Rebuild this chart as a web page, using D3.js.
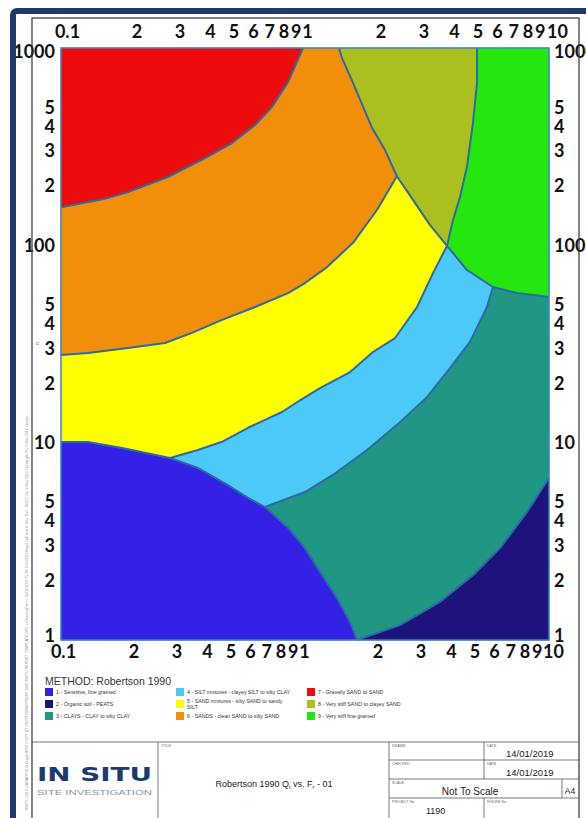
<!DOCTYPE html>
<html>
<head>
<meta charset="utf-8">
<script src="https://cdn.jsdelivr.net/npm/d3@7"></script>
<style>
  body { margin: 0; background: #fff; }
  svg { display: block; font-family: "Liberation Sans", Arial, sans-serif; }
  .axis text { font-family: Lato, "Open Sans", sans-serif; font-weight: 700; font-size: 18px; fill: #111; }
  .small-label { font-size: 3.6px; fill: #666; }
  .legend-text { font-size: 5.3px; fill: #333; }
</style>
</head>
<body>
<div id="chart"></div>
<script>
// Robertson 1990 normalised CPT chart: Qt vs Fr (%)

// axis ticks and labels
const xTicks = [0.1, 0.2, 0.3, 0.4, 0.5, 0.6, 0.7, 0.8, 0.9, 1, 2, 3, 4, 5, 6, 7, 8, 9, 10];
const xTickLabels = ["0.1", "2", "3", "4", "5", "6", "7", "8", "9", "1", "2", "3", "4", "5", "6", "7", "8", "9", "10"];
const yTicks = [1000, 500, 400, 300, 200, 100, 50, 40, 30, 20, 10, 5, 4, 3, 2, 1];
const yTickLabels = ["1000", "5", "4", "3", "2", "100", "5", "4", "3", "2", "10", "5", "4", "3", "2", "1"];

// zone boundaries as [Fr %, Qt] points
const bRedOrange = [[0.1, 156], [0.151, 172], [0.188, 186], [0.274, 222], [0.389, 277], [0.502, 330], [0.624, 407], [0.732, 502], [0.852, 672], [0.981, 1000]];
const bOrangeOlive = [[1.378, 1000], [1.418, 889], [1.573, 665], [1.882, 394], [2.128, 304], [2.38, 224]];
const bOrangeYellow = [[2.38, 224], [1.972, 151], [1.573, 103], [1.231, 77.6], [1.0, 64.4], [0.852, 57.3], [0.624, 48.7], [0.457, 41.9], [0.344, 36.0], [0.267, 32.0], [0.188, 30.2], [0.129, 28.5], [0.1, 27.8]];
const bOliveYellow = [[2.38, 224], [2.77, 170], [3.25, 127], [3.82, 99.3]];
const bOliveGreen = [[5.07, 1000], [5.07, 665], [4.88, 417], [4.61, 250], [4.32, 176], [4.04, 134], [3.82, 99.3]];
const bGreenSilt = [[3.82, 99.3], [4.61, 75], [5.89, 61.5]];
const bGreenClay = [[5.89, 61.5], [7.39, 57.3], [10, 54.7]];
const bYellowSilt = [[3.82, 99.3], [3.35, 72.5], [2.88, 48.7], [2.34, 33.9], [1.90, 28.8], [1.53, 22.8], [1.152, 18.9], [0.954, 16.4], [0.805, 14.3], [0.584, 11.9], [0.457, 10.1], [0.364, 9.18], [0.28, 8.36]];
const bBlueYellow = [[0.1, 10.07], [0.129, 10.07], [0.178, 9.39], [0.28, 8.36]];
const bBlueSilt = [[0.28, 8.36], [0.364, 7.45], [0.483, 6.10], [0.584, 5.25], [0.686, 4.72]];
const bSiltClay = [[0.686, 4.72], [1.0, 5.62], [1.30, 6.86], [1.795, 9.18], [2.45, 12.7], [3.16, 17.0], [3.93, 23.9], [4.74, 32.4], [5.57, 48.7], [5.89, 61.5]];
const bBlueClay = [[0.686, 4.72], [0.852, 3.70], [1.0, 2.92], [1.152, 2.21], [1.353, 1.63], [1.53, 1.23], [1.634, 1]];
const bClayPeat = [[1.634, 1], [2.45, 1.19], [3.57, 1.56], [4.88, 2.13], [6.30, 2.92], [8.13, 4.46], [10, 6.62]];

// legend
const zoneIds = [1, 2, 3, 4, 5, 6, 7, 8, 9];
const zoneNames = [
  ["1 - Sensitive, fine grained"],
  ["2 - Organic soil - PEATS"],
  ["3 - CLAYS - CLAY to silty CLAY"],
  ["4 - SILT mixtures - clayey SILT to silty CLAY"],
  ["5 - SAND mixtures - silty SAND to sandy", "SILT"],
  ["6 - SANDS - clean SAND to silty SAND"],
  ["7 - Gravelly SAND to SAND"],
  ["8 - Very stiff SAND to clayey SAND"],
  ["9 - Very stiff fine grained"]
];
const zoneColors = ["#3322e6", "#1d137a", "#1f9784", "#4dc9f8", "#ffff00", "#f18f0b", "#ee0b0b", "#abbf1f", "#25e70f"];

const rev = a => a.slice().reverse();

// polygons built from the shared boundaries
const zonePolys = {
  7: [[0.1, 1000], ...rev(bRedOrange)],
  6: [...bRedOrange, ...bOrangeOlive, ...bOrangeYellow],
  8: [...bOrangeOlive, ...bOliveYellow, ...rev(bOliveGreen)],
  9: [...bOliveGreen, ...bGreenSilt, ...bGreenClay, [10, 1000]],
  5: [...rev(bOrangeYellow), ...bOliveYellow, ...bYellowSilt, ...rev(bBlueYellow)],
  4: [...rev(bYellowSilt), ...bGreenSilt, ...rev(bSiltClay), ...rev(bBlueSilt)],
  3: [...bSiltClay, ...bGreenClay, ...rev(bClayPeat), ...rev(bBlueClay)],
  1: [...bBlueYellow, ...bBlueSilt, ...bBlueClay, [0.1, 1]],
  2: [...bClayPeat, [10, 1]]
};
const boundaries = [bRedOrange, bOrangeOlive, bOrangeYellow, bOliveYellow, bOliveGreen, bGreenSilt, bGreenClay,
  bYellowSilt, bBlueYellow, bBlueSilt, bSiltClay, bBlueClay, bClayPeat];

const W = 586, H = 818;
const plot = { left: 61, top: 48, right: 549, bottom: 640 };

const svg = d3.select("#chart").append("svg")
  .attr("width", W)
  .attr("height", H);

svg.append("rect").attr("width", W).attr("height", H).attr("fill", "#fff");

const x = d3.scaleLog().domain([0.1, 10]).range([plot.left, plot.right]);
const y = d3.scaleLog().domain([1, 1000]).range([plot.bottom, plot.top]);

const line = d3.line().x(d => x(d[0])).y(d => y(d[1]));

// zone fills
const zoneG = svg.append("g");
zoneIds.forEach((id, i) => {
  zoneG.append("path")
    .attr("d", line(zonePolys[id]) + "Z")
    .attr("fill", zoneColors[i])
    .attr("stroke", zoneColors[i])
    .attr("stroke-width", 0.6);
});

// boundary lines
svg.append("g").selectAll("path")
  .data(boundaries)
  .join("path")
  .attr("d", line)
  .attr("fill", "none")
  .attr("stroke", "#2d6aa3")
  .attr("stroke-width", 2)
  .attr("stroke-linejoin", "round");

// plot border
svg.append("rect")
  .attr("x", plot.left).attr("y", plot.top)
  .attr("width", plot.right - plot.left)
  .attr("height", plot.bottom - plot.top)
  .attr("fill", "none")
  .attr("stroke", "#3f86c8")
  .attr("stroke-width", 1.5);

// axes
const fmtX = d => xTickLabels[xTicks.indexOf(d)];
const fmtY = d => yTickLabels[yTicks.indexOf(d)];

const topAxis = svg.append("g").attr("class", "axis")
  .attr("transform", `translate(0,${plot.top})`)
  .call(d3.axisTop(x).tickValues(xTicks).tickFormat(fmtX).tickSize(0).tickPadding(10));
const bottomAxis = svg.append("g").attr("class", "axis")
  .attr("transform", `translate(0,${plot.bottom})`)
  .call(d3.axisBottom(x).tickValues(xTicks).tickFormat(fmtX).tickSize(0).tickPadding(5));
const leftAxis = svg.append("g").attr("class", "axis")
  .attr("transform", `translate(${plot.left},0)`)
  .call(d3.axisLeft(y).tickValues(yTicks).tickFormat(fmtY).tickSize(0).tickPadding(6));
const rightAxis = svg.append("g").attr("class", "axis")
  .attr("transform", `translate(${plot.right},0)`)
  .call(d3.axisRight(y).tickValues(yTicks).tickFormat(fmtY).tickSize(0).tickPadding(5));

[topAxis, bottomAxis, leftAxis, rightAxis].forEach(g => g.select(".domain").remove());

// nudge the end labels inwards like the original
topAxis.selectAll(".tick text").attr("dx", d => d === 0.1 ? 6 : d === 10 ? 8 : 2);
bottomAxis.selectAll(".tick text").attr("dx", d => d === 0.1 ? 2 : d === 10 ? 4 : -1);
leftAxis.selectAll(".tick text").attr("y", d => d === 1000 ? 4 : d === 1 ? -4 : 0);
rightAxis.selectAll(".tick text").attr("y", d => d === 1000 ? 4 : d === 1 ? -4 : 0);

// page frame
svg.append("rect")
  .attr("x", 13).attr("y", 11).attr("width", 576).attr("height", 830)
  .attr("rx", 4)
  .attr("fill", "none")
  .attr("stroke", "#1f3a6a")
  .attr("stroke-width", 6);

svg.append("rect")
  .attr("x", 32).attr("y", 18).attr("width", 547).attr("height", 830)
  .attr("fill", "none")
  .attr("stroke", "#333")
  .attr("stroke-width", 1.2);

// side note text (drawing file path)
svg.append("text")
  .attr("transform", "translate(28,810) rotate(-90)")
  .attr("font-size", 3.6)
  .attr("fill", "#888")
  .text("INSITU 2019 LIBRARY.GLB  Graph  INSITU CPT QT VS FR  ROBERTSON 1990  INSITU REPORT TEMPLATE.GPJ  <<DrawingFile>>  14/01/2019 15:26  10.0.000 Datgel Lab and In Situ Tool - DGD | Lib: InSitu 2019 Library.glb  Prj: InSitu 2019 Library");
svg.append("text")
  .attr("x", 36).attr("y", 345)
  .attr("font-size", 6)
  .attr("fill", "#777")
  .text("c");

// legend
svg.append("text")
  .attr("x", 45).attr("y", 685)
  .attr("font-size", 10.5)
  .attr("fill", "#333")
  .text("METHOD: Robertson 1990");

const legendCols = [45, 176, 307];
const legendRows = [692, 704, 716];
const legendG = svg.append("g");
zoneIds.forEach((id, i) => {
  const cx = legendCols[Math.floor(i / 3)];
  const cy = legendRows[i % 3];
  legendG.append("rect")
    .attr("x", cx).attr("y", cy - 4)
    .attr("width", 8).attr("height", 8)
    .attr("fill", zoneColors[i]);
  const lines = zoneNames[i];
  const t = legendG.append("text")
    .attr("class", "legend-text")
    .attr("x", cx + 11)
    .attr("y", cy + 1.8 - (lines.length - 1) * 3);
  lines.forEach((s, k) => {
    t.append("tspan").attr("x", cx + 11).attr("dy", k === 0 ? 0 : 6).text(s);
  });
});

// title block
const tb = svg.append("g").attr("stroke", "#555").attr("stroke-width", 0.8);
tb.append("line").attr("x1", 32).attr("x2", 579).attr("y1", 742).attr("y2", 742);
tb.append("line").attr("x1", 158).attr("x2", 158).attr("y1", 742).attr("y2", 818);
tb.append("line").attr("x1", 389).attr("x2", 389).attr("y1", 742).attr("y2", 818);
tb.append("line").attr("x1", 484).attr("x2", 484).attr("y1", 742).attr("y2", 779);
tb.append("line").attr("x1", 484).attr("x2", 484).attr("y1", 798).attr("y2", 818);
tb.append("line").attr("x1", 562).attr("x2", 562).attr("y1", 779).attr("y2", 798);
[760, 779, 798].forEach(v => tb.append("line").attr("x1", 389).attr("x2", 579).attr("y1", v).attr("y2", v));

const smallLabels = [
  ["TITLE", 161, 747], ["DRAWN", 392, 747], ["DATE", 487, 747],
  ["CHECKED", 392, 765], ["DATE", 487, 765], ["SCALE", 392, 784],
  ["PROJECT No", 392, 803], ["FIGURE No", 487, 803]
];
smallLabels.forEach(([s, lx, ly]) => {
  svg.append("text").attr("class", "small-label").attr("x", lx).attr("y", ly).text(s);
});

svg.append("text").attr("x", 506).attr("y", 757).attr("font-size", 9.5).attr("fill", "#222").text("14/01/2019");
svg.append("text").attr("x", 506).attr("y", 776).attr("font-size", 9.5).attr("fill", "#222").text("14/01/2019");
svg.append("text").attr("x", 470).attr("y", 795).attr("text-anchor", "middle").attr("font-size", 10).attr("fill", "#222").text("Not To Scale");
svg.append("text").attr("x", 570).attr("y", 794).attr("text-anchor", "middle").attr("font-size", 8.5).attr("fill", "#222").text("A4");
svg.append("text").attr("x", 426).attr("y", 814).attr("font-size", 9).attr("fill", "#222").text("1190");

const title = svg.append("text")
  .attr("x", 274).attr("y", 787)
  .attr("text-anchor", "middle")
  .attr("font-size", 9)
  .attr("fill", "#222");
title.append("tspan").text("Robertson 1990 Q");
title.append("tspan").attr("font-size", 5.5).attr("dy", 2).text("t");
title.append("tspan").attr("dy", -2).text(" vs. F");
title.append("tspan").attr("font-size", 5.5).attr("dy", 2).text("r");
title.append("tspan").attr("dy", -2).text(" - 01");

// logo
svg.append("text")
  .attr("x", 37).attr("y", 781)
  .attr("font-family", "'DejaVu Sans', sans-serif")
  .attr("font-weight", 700)
  .attr("font-size", 19)
  .attr("fill", "#1c3a72")
  .attr("textLength", 115)
  .attr("lengthAdjust", "spacingAndGlyphs")
  .text("IN SITU");
svg.append("text")
  .attr("x", 37).attr("y", 795)
  .attr("font-size", 8)
  .attr("fill", "#8794aa")
  .attr("textLength", 115)
  .attr("lengthAdjust", "spacingAndGlyphs")
  .text("SITE INVESTIGATION");
</script>
</body>
</html>
